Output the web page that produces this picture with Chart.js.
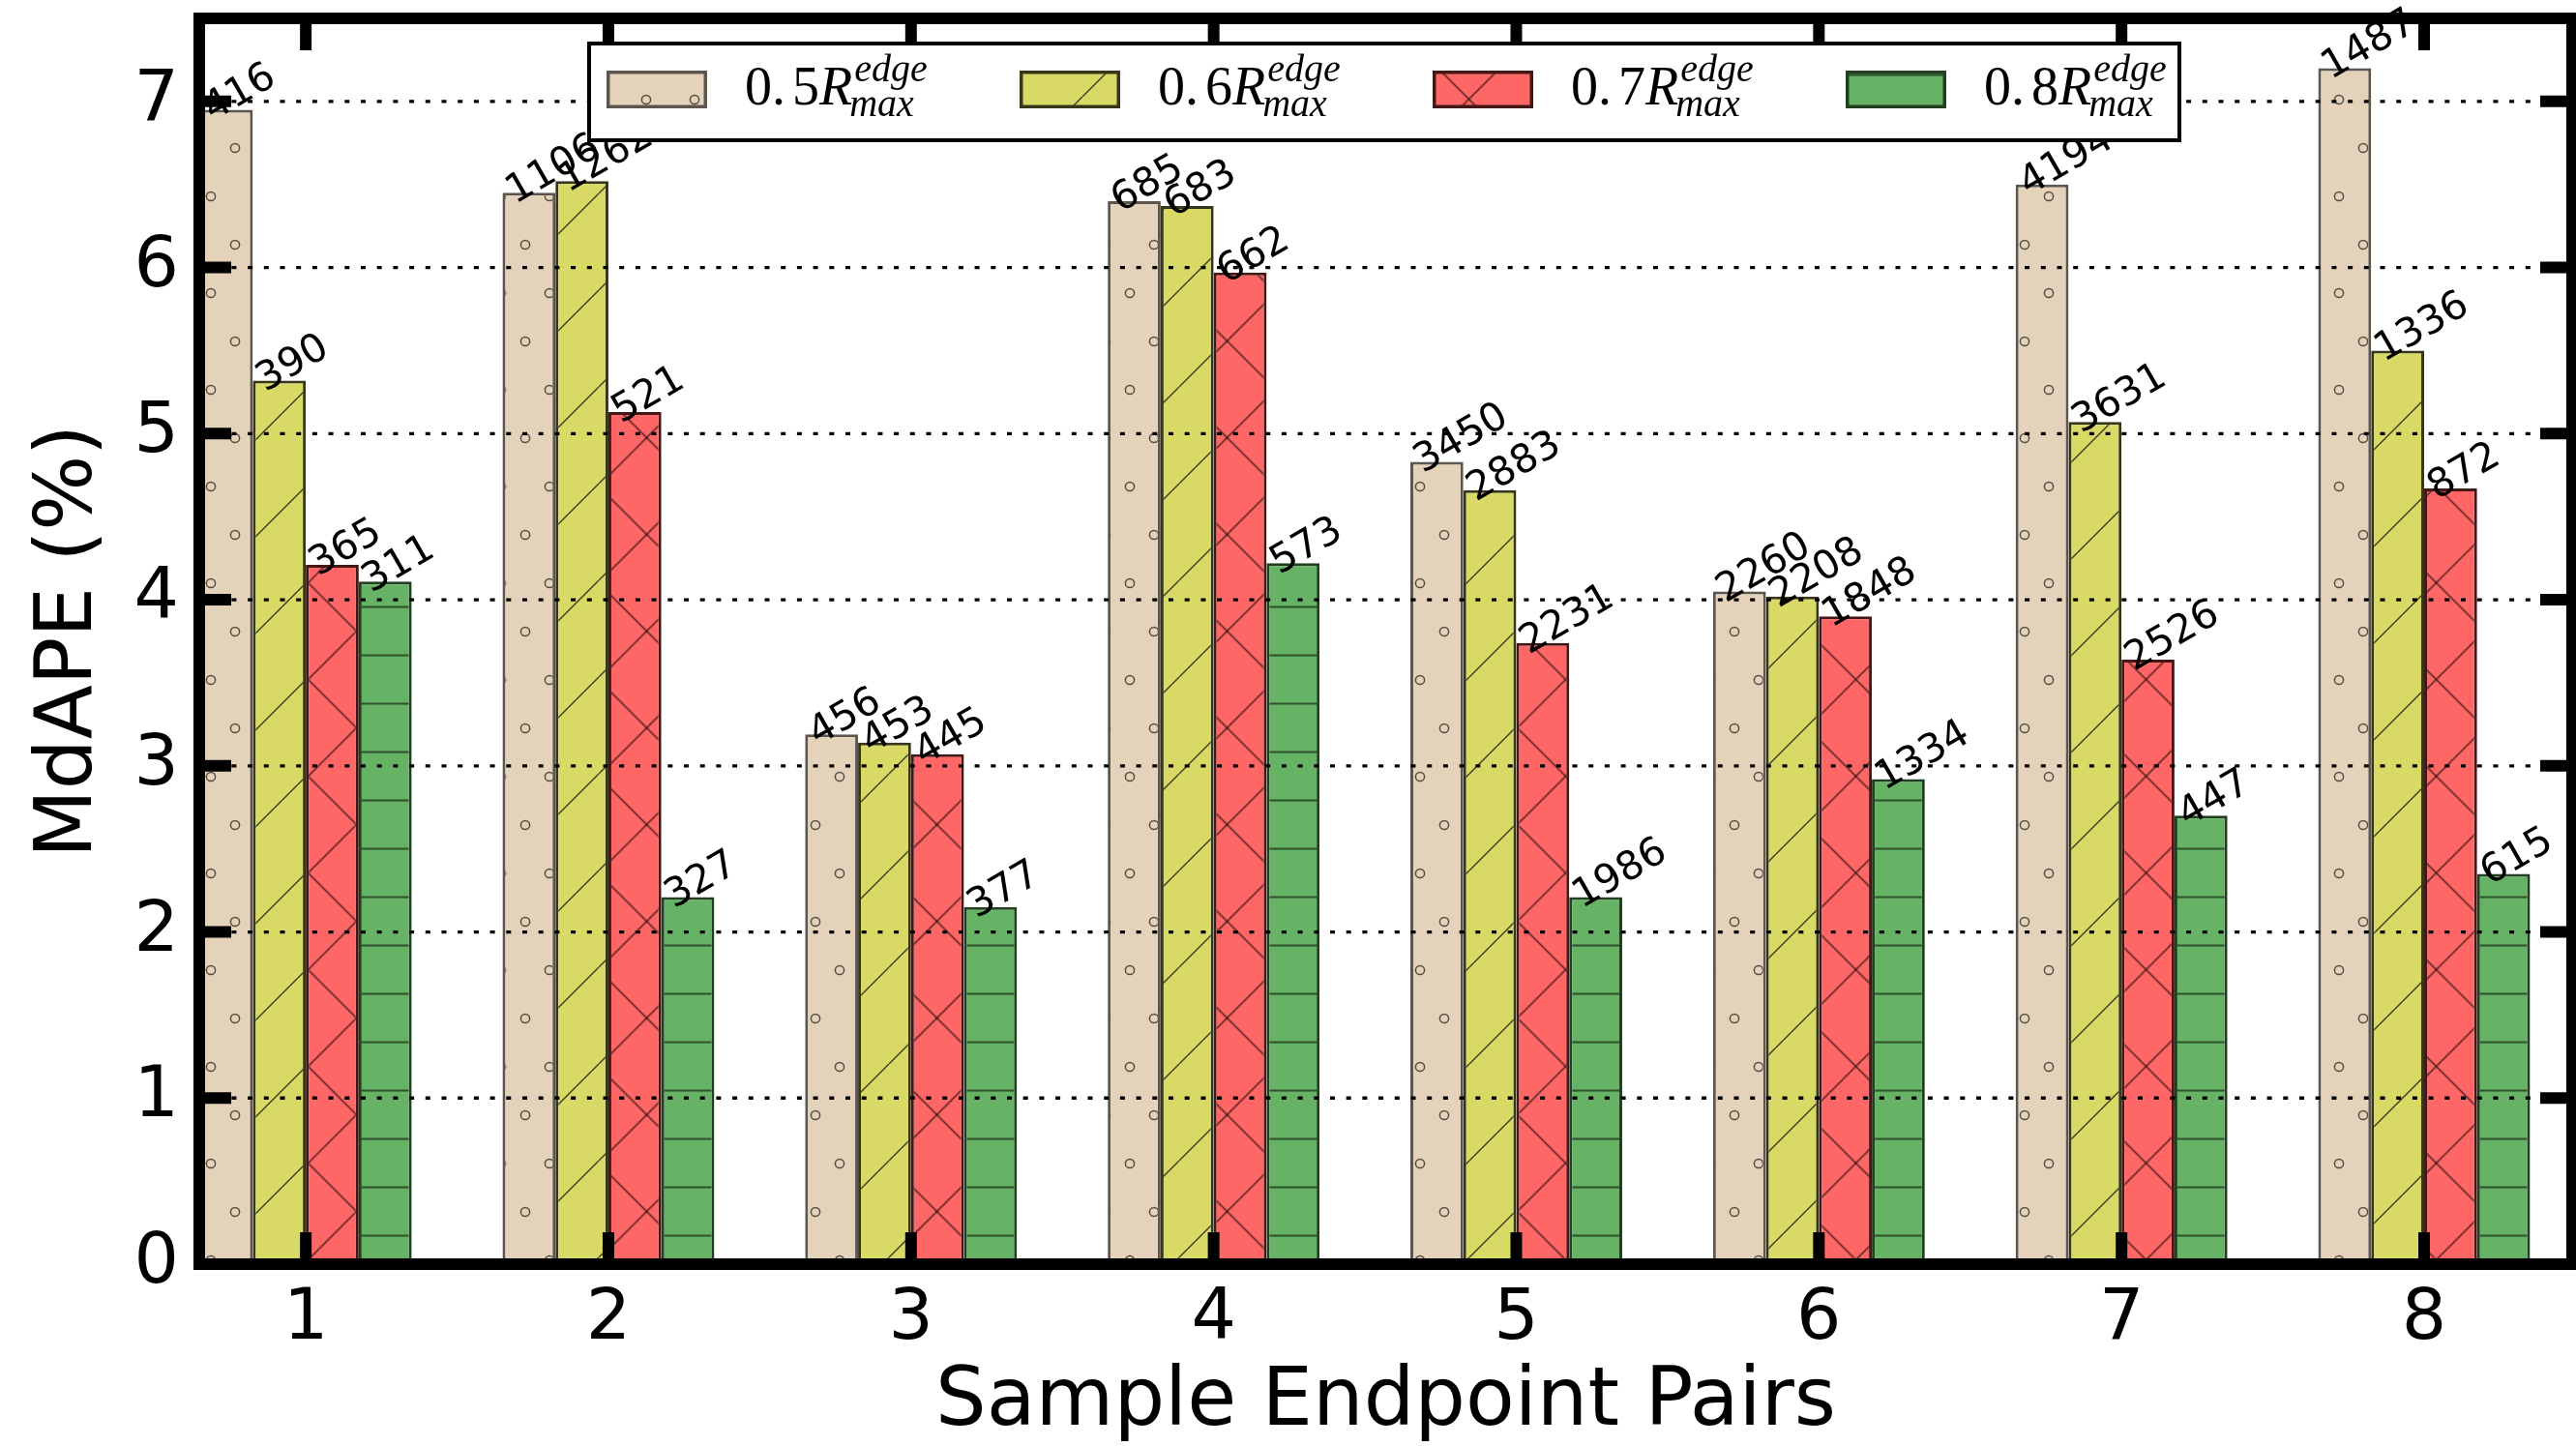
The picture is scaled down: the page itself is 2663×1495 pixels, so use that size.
<!DOCTYPE html>
<html><head><meta charset="utf-8">
<script src="https://cdn.jsdelivr.net/npm/chart.js@4.4.1/dist/chart.umd.min.js"></script>
<style>html,body{margin:0;padding:0;background:#fff;overflow:hidden}#wrap{width:2663px;height:1495px;position:relative}</style>
</head><body><div id="wrap"><canvas id="c" width="2663" height="1495"></canvas></div>
<script>
// ---- data ----
const categories = [1, 2, 3, 4, 5, 6, 7, 8];
const yTicks = [0, 1, 2, 3, 4, 5, 6, 7];
const seriesFactors = ['0.5', '0.6', '0.7', '0.8'];
const mdape05 = [6.95, 6.45, 3.19, 6.40, 4.83, 4.05, 6.50, 7.20];
const mdape06 = [5.32, 6.52, 3.14, 6.37, 4.66, 4.02, 5.07, 5.50];
const mdape07 = [4.21, 5.13, 3.07, 5.97, 3.74, 3.90, 3.64, 4.67];
const mdape08 = [4.11, 2.21, 2.15, 4.22, 2.21, 2.92, 2.70, 2.35];
const counts05 = ['416', '1106', '456', '685', '3450', '2260', '4194', '1487'];
const counts06 = ['390', '1262', '453', '683', '2883', '2208', '3631', '1336'];
const counts07 = ['365', '521', '445', '662', '2231', '1848', '2526', '872'];
const counts08 = ['311', '327', '377', '573', '1986', '1334', '447', '615'];
const xTitle = 'Sample Endpoint Pairs';
const yTitle = 'MdAPE (%)';

const canvas = document.getElementById('c');
const ctx = canvas.getContext('2d');

function makePattern(base, type) {
  const c = document.createElement('canvas');
  let w = 50, h = 50;
  if (type === 'o') { h = 100; }
  if (type === '/' || type === 'x') { w = 100; h = 100; }
  c.width = w; c.height = h;
  const g = c.getContext('2d');
  g.fillStyle = base; g.fillRect(0, 0, w, h);
  g.strokeStyle = 'rgba(0,0,0,0.72)'; g.lineWidth = 1.4;
  let tx = 0, ty = 0;
  if (type === 'o') {
    g.strokeStyle = 'rgba(70,62,55,0.9)'; g.lineWidth = 1.5;
    [[25, 25], [0, 75], [50, 75]].forEach(([x, y]) => { g.beginPath(); g.arc(x, y, 4.6, 0, 2 * Math.PI); g.stroke(); });
    tx = 43; ty = 78;
  }
  if (type === '/' || type === 'x') {
    for (const k of [-100, 0, 100]) { g.beginPath(); g.moveTo(k, 100); g.lineTo(k + 100, 0); g.stroke(); }
  }
  if (type === 'x') {
    for (const k of [-100, 0, 100]) { g.beginPath(); g.moveTo(k, 0); g.lineTo(k + 100, 100); g.stroke(); }
  }
  if (type === '/') { tx = 19; ty = 0; }
  if (type === 'x') { tx = 18.5; ty = 2.5; }
  if (type === '-') { g.beginPath(); g.moveTo(0, 25); g.lineTo(50, 25); g.stroke(); tx = 0; ty = 2.5; }
  const p = ctx.createPattern(c, 'repeat');
  p.setTransform(new DOMMatrix([1, 0, 0, 1, tx, ty]));
  return p;
}

const fills = [
  makePattern('#E4D2BA', 'o'),
  makePattern('#D9D966', '/'),
  makePattern('#FF6666', 'x'),
  makePattern('#66B366', '-')
];
const edges = ['#5c564e', '#36361a', '#451818', '#223f22'];
const values = [mdape05, mdape06, mdape07, mdape08];
const counts = [counts05, counts06, counts07, counts08];

const datasets = values.map((vals, s) => ({
  label: seriesFactors[s],
  data: categories.map((c, i) => ({ x: c, y: vals[i] })),
  backgroundColor: fills[s],
  borderColor: edges[s],
  borderWidth: 3,
  borderSkipped: 'start'
}));

const TICK_LEN = 33, AXW = 12;

const framePlugin = {
  id: 'frame',
  afterDatasetsDraw(chart) {
    const c = chart.ctx, a = chart.chartArea;
    const xs = chart.scales.x, ys = chart.scales.y;
    c.save();
    // dotted grid (above bars)
    c.strokeStyle = '#000'; c.lineWidth = 3.3; c.setLineDash([5, 11.7]);
    yTicks.forEach(v => {
      const y = ys.getPixelForValue(v);
      c.beginPath(); c.moveTo(a.left, y); c.lineTo(a.right, y); c.stroke();
    });
    c.setLineDash([]);
    // ticks (inward, all four sides)
    c.lineWidth = AXW; c.lineCap = 'butt';
    categories.forEach(v => {
      const x = xs.getPixelForValue(v);
      c.beginPath(); c.moveTo(x, a.bottom); c.lineTo(x, a.bottom - TICK_LEN); c.stroke();
      c.beginPath(); c.moveTo(x, a.top); c.lineTo(x, a.top + TICK_LEN); c.stroke();
    });
    yTicks.forEach(v => {
      const y = ys.getPixelForValue(v);
      c.beginPath(); c.moveTo(a.left, y); c.lineTo(a.left + TICK_LEN, y); c.stroke();
      c.beginPath(); c.moveTo(a.right, y); c.lineTo(a.right - TICK_LEN, y); c.stroke();
    });
    // spines
    c.lineJoin = 'miter';
    c.strokeRect(a.left, a.top, a.right - a.left, a.bottom - a.top);
    // value labels
    c.fillStyle = '#000';
    c.font = '41px "DejaVu Sans"';
    c.textAlign = 'left'; c.textBaseline = 'alphabetic';
    chart.data.datasets.forEach((ds, s) => {
      const meta = chart.getDatasetMeta(s);
      meta.data.forEach((el, i) => {
        const p = el.getProps(['x', 'y', 'width'], true);
        const left = p.x - p.width / 2;
        c.save();
        c.translate(left + 13, p.y + 12);
        c.rotate(-Math.PI / 6);
        c.fillText(counts[s][i], 0, 0);
        c.restore();
      });
    });
    c.restore();
  },
  afterDraw(chart) {
    const c = chart.ctx;
    c.save();
    // legend box
    c.fillStyle = '#fff';
    c.fillRect(607, 43, 1648, 104);
    c.strokeStyle = '#000'; c.lineWidth = 4;
    c.strokeRect(609, 45, 1644, 100);
    seriesFactors.forEach((f, s) => {
      const x0 = 627 + 427 * s;
      c.fillStyle = fills[s];
      c.fillRect(x0, 73, 104, 39);
      c.strokeStyle = edges[s]; c.lineWidth = 3.5;
      c.strokeRect(x0 + 1.75, 73 + 1.75, 104 - 3.5, 39 - 3.5);
      // math text  f R^{edge}_{max}
      c.fillStyle = '#000';
      c.textBaseline = 'alphabetic'; c.textAlign = 'left';
      const tx = x0 + 143, base = 108;
      const parts = f.split('.');
      c.font = '56px "Liberation Serif"';
      const p1 = parts[0] + '.';
      c.fillText(p1, tx, base);
      let x = tx + c.measureText(p1).width + 7;
      c.fillText(parts[1], x, base);
      x += c.measureText(parts[1]).width;
      c.font = 'italic 56px "Liberation Serif"';
      c.fillText('R', x, base);
      x += c.measureText('R').width;
      c.font = 'italic 40px "Liberation Serif"';
      c.fillText('edge', x + 2, base - 24);
      c.fillText('max', x - 3, base + 12);
    });
    c.restore();
  }
};

new Chart(ctx, {
  type: 'bar',
  data: { datasets },
  options: {
    responsive: false,
    animation: false,
    devicePixelRatio: 1,
    layout: { padding: { top: 19, right: 4, left: 0, bottom: 0 } },
    plugins: { legend: { display: false }, tooltip: { enabled: false } },
    datasets: { bar: { categoryPercentage: 0.7, barPercentage: 1.0 } },
    scales: {
      x: {
        type: 'linear', min: 0.648, max: 8.489, offset: false,
        grid: { display: false, drawTicks: false }, border: { display: false },
        afterBuildTicks: s => { s.ticks = categories.map(v => ({ value: v })); },
        ticks: { font: { family: 'DejaVu Sans', size: 73 }, color: '#000', padding: 14, autoSkip: false, maxRotation: 0, callback: v => String(v) },
        title: { display: true, text: xTitle, color: '#000', font: { family: 'DejaVu Sans', size: 83, lineHeight: 1.0 }, padding: { top: 0, bottom: 2 } },
        afterFit: s => { s.height = 188; s.paddingLeft = 0; s.paddingRight = 0; }
      },
      y: {
        min: 0, max: 7.5,
        grid: { display: false, drawTicks: false }, border: { display: false },
        afterBuildTicks: s => { s.ticks = yTicks.map(v => ({ value: v })); },
        ticks: { font: { family: 'DejaVu Sans', size: 73 }, color: '#000', padding: 21, callback: v => String(v) },
        title: { display: true, text: yTitle, color: '#000', font: { family: 'DejaVu Sans', size: 82, lineHeight: 1.2 }, padding: { top: 24, bottom: 0 } },
        afterFit: s => { s.width = 206; s.paddingTop = 0; s.paddingBottom = 0; }
      }
    }
  },
  plugins: [framePlugin]
});
</script>
</body></html>
